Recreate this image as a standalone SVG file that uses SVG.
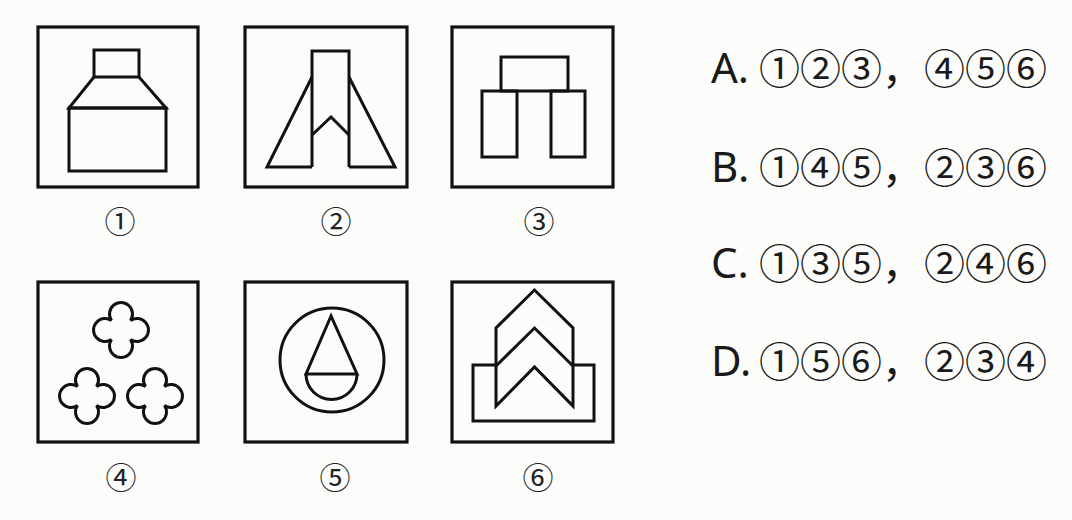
<svg xmlns="http://www.w3.org/2000/svg" width="1072" height="520" viewBox="0 0 1072 520">
<defs>
<style>
.frame{fill:none;stroke:#111;stroke-width:3.2}
.ln{fill:none;stroke:#111;stroke-width:3;stroke-linejoin:miter}
.wf{fill:#fcfdfb;stroke:#111;stroke-width:3;stroke-linejoin:miter}
.lab{font-family:"Noto Sans CJK SC","DejaVu Sans",sans-serif;font-size:31px;fill:#222;text-anchor:middle}
.opt{font-family:"Noto Sans","Noto Sans CJK SC",sans-serif;font-size:42px;fill:#1a1a1a}
.cir{font-family:"Noto Sans CJK SC","DejaVu Sans",sans-serif;font-size:41px;fill:#1a1a1a}
</style>
<path id="clover" d="M-9.5,-9.5 A11.5,11.5 0 1 1 9.5,-9.5 A11.5,11.5 0 1 1 9.5,9.5 A11.5,11.5 0 1 1 -9.5,9.5 A11.5,11.5 0 1 1 -9.5,-9.5 Z"/>
</defs>
<rect width="1072" height="520" fill="#fcfdfb"/>

<g id="fig1">
<rect class="frame" x="38" y="27" width="160" height="160"/>
<rect class="ln" x="94" y="50" width="45" height="27"/>
<path class="ln" d="M94,77 L69,108 L166,108 L139,77"/>
<rect class="ln" x="69" y="108" width="97" height="63"/>
<text class="lab" x="120" y="233">①</text>
</g>

<g id="fig2">
<rect class="frame" x="245" y="27" width="162" height="160"/>
<path class="ln" d="M312,167 L312,51 L349,51 L349,167"/>
<path class="ln" d="M312,135 L331,117 L349,135"/>
<path class="ln" d="M312,77 L267,167 L312,167"/>
<path class="ln" d="M349,77 L395,167 L349,167"/>
<text class="lab" x="336" y="233">②</text>
</g>

<g id="fig3">
<rect class="frame" x="452" y="27" width="161" height="160"/>
<rect class="ln" x="501" y="57" width="67" height="34"/>
<rect class="ln" x="482" y="91" width="35" height="66"/>
<rect class="ln" x="551" y="91" width="34" height="66"/>
<text class="lab" x="539" y="233">③</text>
</g>

<g id="fig4">
<rect class="frame" x="38" y="282" width="160" height="160"/>
<use href="#clover" class="ln" x="121" y="330"/>
<use href="#clover" class="ln" x="87" y="396"/>
<use href="#clover" class="ln" x="155" y="396"/>
<text class="lab" x="121" y="489">④</text>
</g>

<g id="fig5">
<rect class="frame" x="245" y="282" width="162" height="160"/>
<circle class="ln" cx="332" cy="360" r="52"/>
<path class="ln" d="M331,316 L306,374 L357,374 Z"/>
<path class="ln" d="M306,374 A25.5,25.5 0 0 0 357,374"/>
<text class="lab" x="335" y="489">⑤</text>
</g>

<g id="fig6">
<rect class="frame" x="452" y="282" width="161" height="160"/>
<rect class="ln" x="473" y="365" width="121" height="56"/>
<path class="wf" d="M534.5,290 L573,328 L573,406 L534.5,367 L496,406 L496,328 Z"/>
<path class="ln" d="M496,366 L534.5,328 L573,366"/>
<text class="lab" x="538" y="489">⑥</text>
</g>

<g id="options">
<text class="opt" x="711" y="83">A.</text>
<text class="cir" x="759" y="84">①②③，</text>
<text class="cir" x="924" y="84">④⑤⑥</text>
<text class="opt" x="711" y="182">B.</text>
<text class="cir" x="759" y="183">①④⑤，</text>
<text class="cir" x="924" y="183">②③⑥</text>
<text class="opt" x="711" y="278">C.</text>
<text class="cir" x="759" y="279">①③⑤，</text>
<text class="cir" x="924" y="279">②④⑥</text>
<text class="opt" x="711" y="376">D.</text>
<text class="cir" x="759" y="377">①⑤⑥，</text>
<text class="cir" x="924" y="377">②③④</text>
</g>
</svg>
